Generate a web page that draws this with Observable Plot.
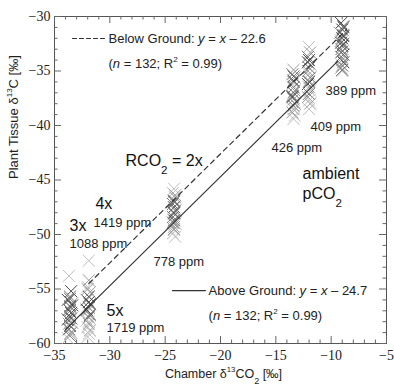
<!DOCTYPE html>
<html><head><meta charset="utf-8">
<script src="https://cdn.jsdelivr.net/npm/d3@7"></script>
<script src="https://cdn.jsdelivr.net/npm/@observablehq/plot@0.6"></script>
<style>
html,body{margin:0;padding:0;background:#fff}
#chart{width:394px;height:385px}
</style>
</head><body><div id="chart"></div>
<script>
// ---- Data (chamber δ13CO2 vs plant tissue δ13C, ‰) ----
// sample set (1..4) gives the grey shade of each ×
const x389 = [-9.1,-8.9,-9.0,-9.2,-8.9,-9.0,-9.1,-8.9,-9.0,-9.1,-9.0,-8.9,-9.1,-9.0,-8.9,-9.0,-9.1,-9.0,-8.9,-9.1,-9.0,-9.0,-8.9,-9.1];
const y389 = [-30.6,-30.9,-31.2,-31.5,-31.7,-32.0,-32.2,-32.5,-32.7,-33.0,-33.2,-33.5,-33.7,-34.0,-34.2,-34.5,-34.7,-35.0,-31.0,-32.4,-33.8,-34.9,-31.8,-33.3];
const s389 = [1,2,1,3,2,1,4,2,1,3,2,1,2,3,1,2,3,4,2,1,3,2,1,2];

const x409 = [-12.0,-11.9,-12.1,-12.0,-11.9,-12.0,-12.1,-12.0,-11.9,-12.0,-12.1,-12.0,-11.9,-12.0,-12.1,-12.0,-11.9,-12.0,-12.1,-12.0];
const y409 = [-32.8,-33.3,-33.7,-34.0,-34.4,-34.7,-35.0,-35.3,-35.6,-35.9,-36.2,-36.5,-36.8,-37.1,-37.4,-37.7,-38.0,-38.5,-34.2,-36.0];
const s409 = [4,3,2,1,3,2,3,4,2,3,1,3,4,2,3,4,3,4,1,2];

const x426 = [-13.4,-13.5,-13.3,-13.4,-13.5,-13.4,-13.3,-13.4,-13.5,-13.4,-13.3,-13.4,-13.4,-13.5,-13.3,-13.4,-13.4,-13.5,-13.3,-13.4];
const y426 = [-34.9,-35.3,-35.6,-35.9,-36.2,-36.5,-36.8,-37.0,-37.3,-37.6,-37.9,-38.2,-38.5,-38.8,-39.1,-39.4,-36.0,-37.4,-38.0,-35.5];
const s426 = [3,2,3,1,4,2,3,2,1,3,4,2,3,3,4,4,2,1,3,2];

const x778 = [-24.2,-24.3,-24.1,-24.2,-24.3,-24.2,-24.1,-24.2,-24.3,-24.2,-24.1,-24.2,-24.2,-24.3,-24.1,-24.2,-24.2,-24.3,-24.1,-24.2];
const y778 = [-45.8,-46.2,-46.6,-46.9,-47.2,-47.5,-47.8,-48.1,-48.4,-48.7,-49.0,-49.3,-49.6,-49.9,-50.2,-47.0,-48.0,-48.9,-46.4,-49.5];
const s778 = [4,4,3,1,2,1,2,3,2,1,3,3,4,4,4,2,1,2,3,3];

const xHigh = [-31.9,-31.9,-32.0,-31.8,-31.9,-32.1,-31.8,-31.9,-32.0,-31.8,-31.9,-32.1,-31.9,-32.0,-31.8,-31.9,-32.0,-31.9,-31.8,-32.0,-31.9,-32.1];
const yHigh = [-52.4,-54.2,-54.8,-55.3,-55.7,-56.0,-56.4,-56.7,-57.0,-57.3,-57.6,-57.9,-58.2,-58.5,-58.8,-59.1,-59.4,-56.2,-57.4,-55.0,-58.0,-56.9];
const sHigh = [4,3,4,3,1,2,1,2,3,3,2,4,3,4,3,4,4,1,2,3,4,1];

const x1719 = [-33.7,-33.5,-33.6,-33.8,-33.4,-33.6,-33.7,-33.5,-33.6,-33.8,-33.4,-33.6,-33.7,-33.5,-33.6,-33.8,-33.4,-33.6,-33.5,-33.7,-33.6,-33.6];
const y1719 = [-53.8,-55.2,-55.7,-56.0,-56.3,-56.6,-56.9,-57.2,-57.5,-57.8,-58.1,-58.4,-58.7,-59.0,-59.3,-59.5,-56.5,-57.0,-57.7,-58.2,-55.9,-59.1];
const s1719 = [4,1,2,1,3,1,2,1,2,1,3,2,1,3,2,4,1,2,1,3,2,3];

// regression fits: y = x + intercept, drawn over the x span of the data
const belowFit = {intercept: -22.6, from: -31.9, to: -8.6};
const aboveFit = {intercept: -24.7, from: -34.0, to: -9.4};

const xTicks = [-35,-30,-25,-20,-15,-10,-5];
const yTicks = [-60,-55,-50,-45,-40,-35,-30];

// ---- build tables ----
function pts(xs, ys, ss) { return xs.map((x, i) => ({x, y: ys[i], set: ss[i]})); }
const points = [].concat(
  pts(x1719, y1719, s1719), pts(xHigh, yHigh, sHigh), pts(x778, y778, s778),
  pts(x426, y426, s426), pts(x409, y409, s409), pts(x389, y389, s389));
function fitLine(f) { return [{x: f.from, y: f.from + f.intercept}, {x: f.to, y: f.to + f.intercept}]; }
const minorX = d3.range(-35, -4, 1).filter(v => !xTicks.includes(v));
const minorY = d3.range(-60, -29, 1).filter(v => !yTicks.includes(v));

// annotations (markup: {i:..} italic, {sub:..} subscript, {sup:..} superscript)
const smallNotes = [
  {x: -30.12, y: -32.02, t: "Below Ground: {i:y} = {i:x} – 22.6"},
  {x: -30.12, y: -34.31, t: "({i:n} = 132; R{sup:2} = 0.99)"},
  {x: -31.48, y: -48.90, t: "1419 ppm"},
  {x: -33.64, y: -50.83, t: "1088 ppm"},
  {x: -26.05, y: -52.48, t: "778 ppm"},
  {x: -30.30, y: -58.53, t: "1719 ppm"},
  {x: -10.51, y: -36.79, t: "389 ppm"},
  {x: -11.87, y: -40.09, t: "409 ppm"},
  {x: -15.39, y: -42.02, t: "426 ppm"},
  {x: -21.08, y: -55.14, t: "Above Ground: {i:y} = {i:x} – 24.7"},
  {x: -21.08, y: -57.43, t: "({i:n} = 132; R{sup:2} = 0.99)"}
];
const bigNotes = [
  {x: -28.58, y: -43.21, t: "RCO{sub:2} = 2x"},
  {x: -31.30, y: -47.16, t: "4x"},
  {x: -33.64, y: -49.17, t: "3x"},
  {x: -30.30, y: -56.97, t: "5x"},
  {x: -12.59, y: -44.40, t: "ambient"},
  {x: -12.59, y: -46.24, t: "pCO{sub:2}"}
];

const tickColor = "#666";
const SERIF = "'Liberation Serif', 'Times New Roman', serif";
const chart = Plot.plot({
  width: 394, height: 385,
  marginTop: 16, marginRight: 8, marginBottom: 42, marginLeft: 54,
  x: {domain: [-35, -5]},
  y: {domain: [-60, -30]},
  color: {type: "ordinal", domain: [1, 2, 3, 4], range: ["#444444", "#707070", "#999999", "#bdbdbd"]},
  style: {fontFamily: "'Liberation Sans', Arial, sans-serif", fontSize: "13px", color: "#222", background: "#fff"},
  marks: [
    Plot.frame({stroke: "#555"}),
    // inward ticks on all four sides
    Plot.tickX(xTicks, {x: d => d, insetTop: 320, stroke: tickColor}),
    Plot.tickX(xTicks, {x: d => d, insetBottom: 320, stroke: tickColor}),
    Plot.tickX(minorX, {x: d => d, insetTop: 323.5, stroke: tickColor}),
    Plot.tickX(minorX, {x: d => d, insetBottom: 323.5, stroke: tickColor}),
    Plot.tickY(yTicks, {y: d => d, insetRight: 325, stroke: tickColor}),
    Plot.tickY(yTicks, {y: d => d, insetLeft: 325, stroke: tickColor}),
    Plot.tickY(minorY, {y: d => d, insetRight: 328.5, stroke: tickColor}),
    Plot.tickY(minorY, {y: d => d, insetLeft: 328.5, stroke: tickColor}),
    Plot.axisX({ticks: xTicks, tickSize: 0, tickPadding: 7, label: null, fontSize: 14}),
    Plot.axisY({ticks: yTicks, tickSize: 0, tickPadding: 4, label: null, fontSize: 14}),
    Plot.dot(points, {x: "x", y: "y", stroke: "set", symbol: "times", r: 5.5, strokeWidth: 1}),
    Plot.line(fitLine(belowFit), {x: "x", y: "y", stroke: "#333", strokeWidth: 1.2, strokeDasharray: "5,4"}),
    Plot.line(fitLine(aboveFit), {x: "x", y: "y", stroke: "#333", strokeWidth: 1.2}),
    // legend samples
    Plot.line([{x: -33.37, y: -32.02}, {x: -30.39, y: -32.02}], {x: "x", y: "y", stroke: "#333", strokeWidth: 1.2, strokeDasharray: "4,3"}),
    Plot.line([{x: -24.34, y: -55.14}, {x: -21.36, y: -55.14}], {x: "x", y: "y", stroke: "#333", strokeWidth: 1.2}),
    Plot.text(smallNotes, {x: "x", y: "y", text: "t", textAnchor: "start", fontSize: 13, fill: "#222"}),
    Plot.text(bigNotes, {x: "x", y: "y", text: "t", textAnchor: "start", fontSize: 16, fill: "#111"}),
    // axis titles
    Plot.text(["Chamber δ{sup:13}CO{sub:2} [‰]"], {frameAnchor: "bottom", text: d => d, dy: 34, dx: 3, fontSize: 12.5, fill: "#222"}),
    Plot.text(["Plant Tissue δ{sup:13}C [‰]"], {frameAnchor: "left", text: d => d, dx: -41, dy: -1, rotate: -90, fontSize: 13, fill: "#222"})
  ]
});
document.getElementById("chart").appendChild(chart);

// tick labels in a Times-like serif, as in the reference
chart.querySelectorAll("text").forEach(el => {
  if (/^[−\-]?\d+$/.test(el.textContent.trim())) el.style.fontFamily = SERIF;
});

// turn the light markup into tspans (italic, sub/superscripts)
const NS = "http://www.w3.org/2000/svg";
chart.querySelectorAll("text").forEach(el => {
  const s = el.textContent;
  if (!s.includes("{")) return;
  const base = parseFloat(getComputedStyle(el).fontSize) || 13;
  const re = /\{(i|sub|sup):([^}]*)\}/g;
  const parts = []; let last = 0, m;
  while ((m = re.exec(s))) {
    if (m.index > last) parts.push({t: s.slice(last, m.index)});
    parts.push({t: m[2], k: m[1]});
    last = re.lastIndex;
  }
  if (last < s.length) parts.push({t: s.slice(last)});
  while (el.firstChild) el.removeChild(el.firstChild);
  let shift = 0;
  for (const p of parts) {
    const ts = document.createElementNS(NS, "tspan");
    let target = 0;
    if (p.k === "sub") { target = 0.55 * base; ts.setAttribute("font-size", (0.72 * base) + "px"); }
    if (p.k === "sup") { target = -0.42 * base; ts.setAttribute("font-size", (0.62 * base) + "px"); }
    if (p.k === "i") ts.setAttribute("font-style", "italic");
    if (target !== shift) { ts.setAttribute("dy", (target - shift) + "px"); shift = target; }
    ts.textContent = p.t;
    el.appendChild(ts);
  }
});
</script>
</body></html>
